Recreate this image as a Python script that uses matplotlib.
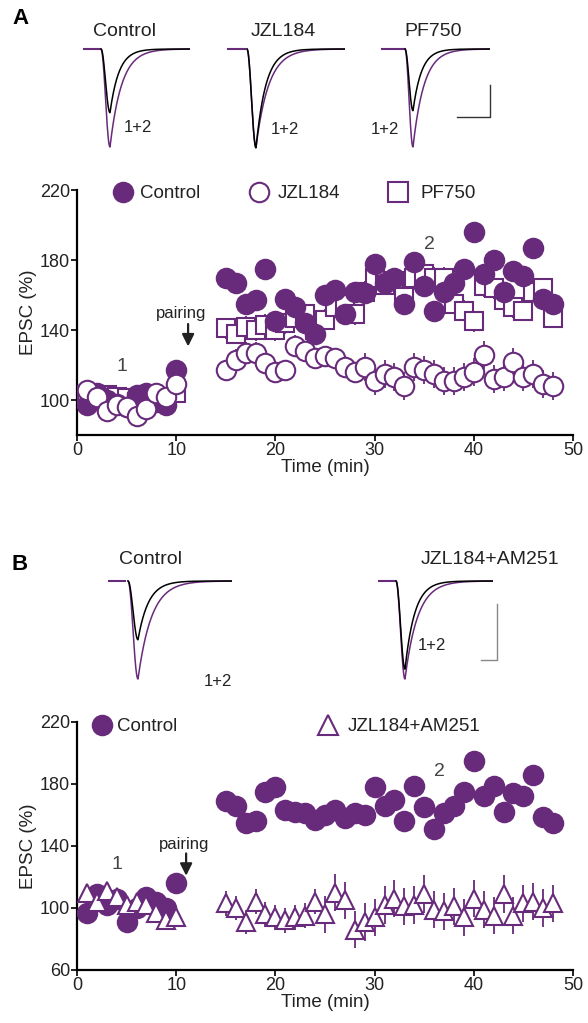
import numpy as np
import matplotlib.pyplot as plt

plt.rcParams['font.family'] = ['Liberation Sans', 'DejaVu Sans']

PURPLE = '#682a7a'
W, H = 588, 1023

# ---- data (EPSC %) ----
t_base = list(range(1, 11))
t_post = list(range(15, 49))
t_all = t_base + t_post

a_ctrl = [97, 104, 100, 98, 96, 103, 104, 99, 97, 117,
          170, 167, 155, 157, 175, 145, 158, 153, 144, 138, 160, 163, 149, 162, 161,
          178, 167, 170, 155, 179, 165, 151, 162, 167, 175, 196, 172, 180, 162, 174,
          171, 187, 158, 155]
a_ctrl_err = [3] * 9 + [5] + [5] * 34
a_jzl = [106, 102, 94, 97, 96, 91, 95, 104, 102, 109,
         117, 123, 127, 127, 121, 116, 117, 131, 128, 124, 125, 124, 119, 116, 119,
         111, 115, 113, 108, 119, 117, 115, 111, 111, 113, 116, 126, 112, 113, 122,
         113, 115, 109, 108]
a_jzl_err = [4] * 10 + [6] * 14 + [8] * 20
a_pf = [103, 100, 103, 102, 101, 99, 100, 99, 101, 104,
        141, 138, 142, 140, 143, 140, 144, 147, 149, 140, 146, 153, 155, 149, 162,
        170, 166, 168, 159, 170, 172, 170, 170, 155, 151, 145, 165, 164, 157, 153,
        151, 162, 164, 147]
a_pf_err = [4] * 10 + [6] * 34

b_ctrl = [97, 109, 102, 106, 91, 100, 107, 104, 100, 116,
          169, 166, 155, 156, 175, 178, 163, 162, 161, 157, 160, 163, 158, 161, 160,
          178, 166, 170, 156, 179, 165, 151, 161, 166, 175, 195, 172, 179, 162, 174,
          172, 186, 159, 155]
b_ctrl_err = [3] * 9 + [5] + [5] * 34
b_tri = [110, 104, 111, 107, 102, 104, 102, 97, 92, 94,
         103, 100, 91, 104, 96, 94, 92, 94, 95, 104, 96, 110, 105, 86, 91,
         94, 102, 106, 101, 102, 109, 99, 98, 101, 94, 106, 99, 95, 109, 95,
         103, 104, 100, 103]
b_tri_err = [5] * 10 + [8] * 10 + [12] * 24

# trace amplitudes (fraction of purple peak): label, black peak, purple peak
a_traces = [('Control', 0.65, 1.0), ('JZL184', 1.01, 1.0), ('PF750', 0.63, 1.0)]
b_traces = [('Control', 0.6, 1.0), ('JZL184+AM251', 0.9, 1.0)]


def fig_axes(l, t, r, b):
    return fig.add_axes([l / W, 1 - b / H, (r - l) / W, (b - t) / H])


def draw_trace(x0, bar_end, start, peak_x, end, y0, ypk_black, ypk_purple):
    ax = fig_axes(x0, y0 - 5, end, ypk_purple + 3)
    ax.set_xlim(x0, end)
    ax.set_ylim(ypk_purple + 3, y0 - 5)
    ax.axis('off')
    ax.plot([x0, bar_end], [y0, y0], color=PURPLE, lw=1.5)
    tt = np.linspace(0, 1, 400)
    rise = (peak_x - start) / (end - start)
    for ypk, c in [(ypk_purple, PURPLE), (ypk_black, 'black')]:
        tau_d = 0.13 if c == PURPLE else 0.10
        dec = np.exp(-(tt - rise) / tau_d)
        w = np.where(tt < rise, np.sin(0.5 * np.pi * tt / rise) ** 2, dec)
        ax.plot(start + tt * (end - start), y0 + w * (ypk - y0), color=c, lw=1.1)


def scatter_panel(ax, series, ylim, yticks):
    for x, y, e, m, fc in series:
        ax.errorbar(x, y, yerr=e, fmt='none', ecolor=PURPLE, elinewidth=1.3, capsize=0, zorder=2)
        ax.plot(x, y, m, ms=14 if m == 'o' else 13, mfc=fc, mec=PURPLE, mew=1.5, ls='none', zorder=3)
    ax.set_xlim(0, 50)
    ax.set_ylim(*ylim)
    ax.set_yticks(yticks)
    ax.set_xticks([0, 10, 20, 30, 40, 50])
    ax.spines['top'].set_visible(False)
    ax.spines['right'].set_visible(False)
    for s in ['left', 'bottom']:
        ax.spines[s].set_linewidth(1.6)
    ax.tick_params(labelsize=13, width=1.4, length=4, pad=1, colors='#222222')
    ax.set_xlabel('Time (min)', fontsize=13.5, labelpad=0, color='#222222')
    ax.set_ylabel('EPSC (%)', fontsize=13.5, labelpad=2, color='#222222')


fig = plt.figure(figsize=(W / 100, H / 100), dpi=100)

# ---- panel A traces ----
fig.text(12 / W, 1 - 18 / H, 'A', fontsize=16, fontweight='bold', va='center')
pos_a = [(83, 100, 101, 110, 190), (227, 245, 247, 256, 345), (381, 405, 405, 413, 490)]
lab_a_x = [125, 283, 433]
one_two_a = [(138, 128), (285, 130), (385, 130)]
for (name, kb, kp), (x0, be, st, pk, en), lx, (ox, oy) in zip(a_traces, pos_a, lab_a_x, one_two_a):
    draw_trace(x0, be, st, pk, en, 49, 49 + kb * 98, 49 + kp * 98)
    fig.text(lx / W, 1 - 32 / H, name, fontsize=14, ha='center', va='center', color='#222222')
    fig.text(ox / W, 1 - oy / H, '1+2', fontsize=12, ha='center', va='center', color='#222222')
overlay = fig.add_axes([0, 0, 1, 1])
overlay.set_xlim(0, W)
overlay.set_ylim(H, 0)
overlay.axis('off')
overlay.plot([490, 490, 457], [85, 117, 117], color='#333333', lw=1)
overlay.plot([497, 497, 481], [604, 660, 660], color='#888888', lw=1)

# ---- panel A scatter ----
axA = fig_axes(77, 190, 573, 435)
scatter_panel(axA, [(t_all, a_pf, a_pf_err, 's', 'white'),
                    (t_all, a_ctrl, a_ctrl_err, 'o', PURPLE),
                    (t_all, a_jzl, a_jzl_err, 'o', 'white')],
              (80, 220), [100, 140, 180, 220])
for x, m, fc, lab, tx in [(4.6, 'o', PURPLE, 'Control', 6.4), (18.3, 'o', 'white', 'JZL184', 20.2),
                          (32.4, 's', 'white', 'PF750', 34.6)]:
    axA.plot([x], [219], m, ms=14, mfc=fc, mec=PURPLE, mew=1.5, clip_on=False)
    axA.text(tx, 218, lab, fontsize=13.5, va='center', color='#222222')
axA.text(10.5, 145, 'pairing', fontsize=12, ha='center', va='bottom', color='#222222')
axA.annotate('', xy=(11.2, 129), xytext=(11.2, 145),
             arrowprops=dict(arrowstyle='-|>', color='#222222', lw=1.6, mutation_scale=18))
axA.text(4.5, 119, '1', fontsize=14, ha='center', va='center', color='#444444')
axA.text(35.5, 189, '2', fontsize=14, ha='center', va='center', color='#444444')

# ---- panel B traces ----
fig.text(12 / W, 1 - 565 / H, 'B', fontsize=16, fontweight='bold', va='center')
pos_b = [(108, 125, 128, 138, 232), (378, 395, 396, 405, 493)]
lab_b_x = [150, 490]
one_two_b = [(218, 682), (432, 645)]
for (name, kb, kp), (x0, be, st, pk, en), lx, (ox, oy) in zip(b_traces, pos_b, lab_b_x, one_two_b):
    draw_trace(x0, be, st, pk, en, 581, 581 + kb * 98, 581 + kp * 98)
    fig.text(lx / W, 1 - 560 / H, name, fontsize=14, ha='center', va='center', color='#222222')
    fig.text(ox / W, 1 - oy / H, '1+2', fontsize=12, ha='center', va='center', color='#222222')

# ---- panel B scatter ----
axB = fig_axes(77, 722, 573, 970)
scatter_panel(axB, [(t_all, b_ctrl, b_ctrl_err, 'o', PURPLE),
                    (t_all, b_tri, b_tri_err, '^', 'white')],
              (60, 220), [60, 100, 140, 180, 220])
for x, m, fc, lab, tx in [(2.5, 'o', PURPLE, 'Control', 4.0), (25.3, '^', 'white', 'JZL184+AM251', 27.3)]:
    axB.plot([x], [218], m, ms=14, mfc=fc, mec=PURPLE, mew=1.5, clip_on=False)
    axB.text(tx, 217, lab, fontsize=13.5, va='center', color='#222222')
axB.text(10.8, 136, 'pairing', fontsize=12, ha='center', va='bottom', color='#222222')
axB.annotate('', xy=(11.0, 119), xytext=(11.0, 137),
             arrowprops=dict(arrowstyle='-|>', color='#222222', lw=1.6, mutation_scale=18))
axB.text(4.0, 128, '1', fontsize=14, ha='center', va='center', color='#444444')
axB.text(36.5, 188, '2', fontsize=14, ha='center', va='center', color='#444444')

fig.savefig('out.png', dpi=100)
